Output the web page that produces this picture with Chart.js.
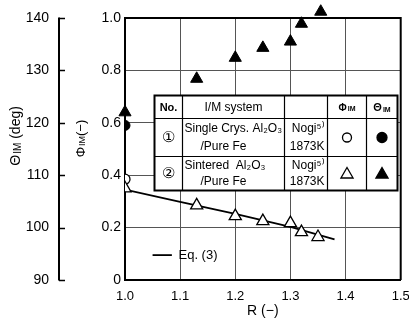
<!DOCTYPE html>
<html><head><meta charset="utf-8">
<script src="https://cdn.jsdelivr.net/npm/chart.js@4.4.1/dist/chart.umd.min.js"></script>
<style>html,body{margin:0;padding:0;background:#fff}#wrap{position:relative;width:409px;height:320px}</style>
</head><body><div id="wrap"><canvas id="c"></canvas></div>
<script>
// ---- data ----
const R_single = [1.0];
const phi_single = [0.385];
const theta_single = [119.5];
const R_sintered = [1.0, 1.13, 1.2, 1.25, 1.3, 1.32, 1.35];
const phi_sintered = [0.35, 0.285, 0.244, 0.225, 0.217, 0.183, 0.164];
const R_sinteredTheta = [1.0, 1.13, 1.2, 1.25, 1.3, 1.32, 1.355];
const theta_sintered = [122.0, 128.4, 132.4, 134.3, 135.5, 138.9, 141.2];
const R_eq3 = [1.0, 1.1, 1.2, 1.3, 1.38];
const phi_eq3 = [0.345, 0.298, 0.252, 0.203, 0.155];

const xTickLabels = ["1.0", "1.1", "1.2", "1.3", "1.4", "1.5"];
const phiTickLabels = ["0", "0.2", "0.4", "0.6", "0.8", "1.0"];
const thetaTickLabels = ["90", "100", "110", "120", "130", "140"];

const xTitle = "R (−)";
const phiTitle = ["Φ", "IM", "(−)"];
const thetaTitle = ["Θ", "IM", " (deg)"];
const tableHeader = ["No.", "I/M system", "", "Φ", "Θ"];
const tableNo = ["①", "②"];
const tableSystem = [["Single Crys. Al₂O₃", "/Pure Fe"], ["Sintered  Al₂O₃", "/Pure Fe"]];
const tableSource = [["Nogi⁵⁾", "1873K"], ["Nogi⁵⁾", "1873K"]];
const legendLabel = "Eq. (3)";

const pts = (xs, ys) => xs.map((x, i) => ({x: x, y: ys[i]}));
const FONT = "'Liberation Sans', Arial, sans-serif";

function tri(ctx, x, y, r, fill) {
  ctx.beginPath();
  for (let k = 0; k < 3; k++) {
    const a = k * 2 * Math.PI / 3;
    const px = x + Math.sin(a) * r, py = y - Math.cos(a) * r;
    k ? ctx.lineTo(px, py) : ctx.moveTo(px, py);
  }
  ctx.closePath();
  ctx.fillStyle = fill ? '#000' : '#fff';
  ctx.fill();
  ctx.lineWidth = 1.3; ctx.strokeStyle = '#000'; ctx.stroke();
}
function circ(ctx, x, y, r, fill) {
  ctx.beginPath(); ctx.arc(x, y, r, 0, 2 * Math.PI);
  ctx.fillStyle = fill ? '#000' : '#fff'; ctx.fill();
  ctx.lineWidth = 1.3; ctx.strokeStyle = '#000'; ctx.stroke();
}
// draws base + small subscript + rest, centred on cx,cy
function subText(ctx, parts, cx, cy, size, bold) {
  const b = bold ? 'bold ' : '';
  const f1 = b + size + 'px ' + FONT, f2 = b + Math.round(size * 0.68) + 'px ' + FONT;
  ctx.font = f1; const w1 = ctx.measureText(parts[0]).width;
  ctx.font = f2; const w2 = ctx.measureText(parts[1]).width;
  ctx.font = f1; const w3 = parts[2] ? ctx.measureText(parts[2]).width : 0;
  let x = cx - (w1 + w2 + w3 + 1) / 2;
  ctx.textAlign = 'left'; ctx.textBaseline = 'middle';
  ctx.font = f1; ctx.fillText(parts[0], x, cy);
  ctx.font = f2; ctx.fillText(parts[1], x + w1 + 1, cy + size * 0.15);
  if (parts[2]) { ctx.font = f1; ctx.fillText(parts[2], x + w1 + w2 + 1, cy); }
}

const tablePlugin = {
  id: 'imTable',
  afterDraw(chart, args, o) {
    const {ctx, chartArea: ca, scales: {x, phi, theta}} = chart;
    ctx.save();
    // frame top/right
    ctx.strokeStyle = '#000'; ctx.lineWidth = 2;
    ctx.beginPath(); ctx.moveTo(ca.left, ca.top); ctx.lineTo(ca.right, ca.top); ctx.lineTo(ca.right, ca.bottom); ctx.stroke();
    // theta axis line with inward ticks
    const ax = Math.round(theta.right) - 1;
    ctx.beginPath(); ctx.moveTo(ax, theta.top - 0.5); ctx.lineTo(ax, theta.bottom + 0.5); ctx.stroke();
    ctx.lineWidth = 1.5;
    theta.ticks.forEach(t => {
      const py = Math.round(theta.getPixelForValue(t.value)) + 0.5;
      ctx.beginPath(); ctx.moveTo(ax, py); ctx.lineTo(ax + 6, py); ctx.stroke();
    });
    // axis titles
    ctx.fillStyle = '#000';
    ctx.save(); ctx.translate(theta.left + 16, phi.getPixelForValue(o.thetaTitleAt)); ctx.rotate(-Math.PI / 2);
    subText(ctx, thetaTitle, 0, 0, 14, false); ctx.restore();
    ctx.save(); ctx.translate(phi.left + 21, phi.getPixelForValue(o.phiTitleAt)); ctx.rotate(-Math.PI / 2);
    subText(ctx, phiTitle, 0, 0, 13, false); ctx.restore();

    // table
    const xs = o.cols.map(v => Math.round(x.getPixelForValue(v)) + 0.5);
    const ys = o.rows.map(v => Math.round(phi.getPixelForValue(v)) + 0.5);
    ctx.fillStyle = '#fff';
    ctx.fillRect(xs[0], ys[0], xs[5] - xs[0], ys[3] - ys[0]);
    ctx.strokeStyle = '#000';
    ctx.lineWidth = 1.2;
    for (let i = 1; i < 3; i++) { ctx.beginPath(); ctx.moveTo(xs[0], ys[i]); ctx.lineTo(xs[5], ys[i]); ctx.stroke(); }
    for (let j = 1; j < 5; j++) { ctx.beginPath(); ctx.moveTo(xs[j], ys[0]); ctx.lineTo(xs[j], ys[3]); ctx.stroke(); }
    ctx.lineWidth = 2;
    ctx.strokeRect(xs[0], ys[0], xs[5] - xs[0], ys[3] - ys[0]);
    ctx.fillStyle = '#000';
    const cc = j => (xs[j] + xs[j + 1]) / 2;
    const rc = i => (ys[i] + ys[i + 1]) / 2;
    ctx.textAlign = 'center'; ctx.textBaseline = 'middle';
    ctx.font = 'bold 11px ' + FONT;
    ctx.fillText(tableHeader[0], cc(0), rc(0) + 1);
    ctx.font = '12px ' + FONT;
    ctx.fillText(tableHeader[1], cc(1), rc(0) + 1);
    ctx.fillText(tableHeader[2], cc(2), rc(0) + 1);
    subText(ctx, [tableHeader[3], 'IM'], cc(3), rc(0) + 1, 10, true);
    subText(ctx, [tableHeader[4], 'IM'], cc(4), rc(0) + 1, 11, true);
    for (let r = 0; r < 2; r++) {
      const top = ys[r + 1], bot = ys[r + 2], h = bot - top;
      ctx.fillStyle = '#000';
      ctx.textAlign = 'center'; ctx.textBaseline = 'middle';
      ctx.font = '15px ' + FONT;
      ctx.fillText(tableNo[r], cc(0), rc(r + 1));
      ctx.font = '12px ' + FONT;
      ctx.textAlign = 'left';
      ctx.fillText(tableSystem[r][0], xs[1] + 2, top + h * 0.28, xs[2] - xs[1] - 3);
      ctx.textAlign = 'center';
      ctx.fillText(tableSystem[r][1], cc(1) - 10, top + h * 0.74);
      ctx.textAlign = 'right';
      ctx.fillText(tableSource[r][0], xs[3] - 3, top + h * 0.28);
      ctx.fillText(tableSource[r][1], xs[3] - 3, top + h * 0.74);
      if (r === 0) { circ(ctx, cc(3), rc(1), 4.5, false); circ(ctx, cc(4), rc(1), 5, true); }
      else { tri(ctx, cc(3), rc(2) + 1, 7, false); tri(ctx, cc(4), rc(2) + 1, 7, true); }
    }
    // Eq.(3) key
    const ly = phi.getPixelForValue(o.keyY);
    ctx.strokeStyle = '#000'; ctx.lineWidth = 1.8;
    ctx.beginPath(); ctx.moveTo(x.getPixelForValue(o.keyX[0]), ly); ctx.lineTo(x.getPixelForValue(o.keyX[1]), ly); ctx.stroke();
    ctx.fillStyle = '#000';
    ctx.font = '13px ' + FONT; ctx.textAlign = 'left'; ctx.textBaseline = 'middle';
    ctx.fillText(legendLabel, x.getPixelForValue(o.keyX[2]), ly);
    ctx.restore();
  }
};

new Chart(document.getElementById('c'), {
  type: 'scatter',
  data: {
    datasets: [
      {label: 'Eq. (3)', data: pts(R_eq3, phi_eq3), yAxisID: 'phi', showLine: true, pointRadius: 0,
       borderColor: '#000', borderWidth: 1.8, order: 5},
      {label: 'Φ single', data: pts(R_single, phi_single), yAxisID: 'phi', pointStyle: 'circle', pointRadius: 5,
       backgroundColor: '#fff', borderColor: '#000', borderWidth: 1.3, order: 4},
      {label: 'Φ sintered', data: pts(R_sintered, phi_sintered), yAxisID: 'phi', pointStyle: 'triangle', pointRadius: 7,
       backgroundColor: '#fff', borderColor: '#000', borderWidth: 1.3, order: 3},
      {label: 'Θ single', data: pts(R_single, theta_single), yAxisID: 'theta', pointStyle: 'circle', pointRadius: 5,
       backgroundColor: '#000', borderColor: '#000', borderWidth: 1, order: 2},
      {label: 'Θ sintered', data: pts(R_sinteredTheta, theta_sintered), yAxisID: 'theta', pointStyle: 'triangle', pointRadius: 7,
       backgroundColor: '#000', borderColor: '#000', borderWidth: 1, order: 1, clip: false}
    ]
  },
  options: {
    responsive: true, maintainAspectRatio: false, animation: false,
    layout: {padding: {top: 18, right: 8, left: 0, bottom: 0}},
    plugins: {
      legend: {display: false}, tooltip: {enabled: false},
      imTable: {cols: [1.052, 1.103, 1.289, 1.366, 1.437, 1.493], rows: [0.705, 0.62, 0.472, 0.345],
                keyX: [1.05, 1.085, 1.097], keyY: 0.095, thetaTitleAt: 0.55, phiTitleAt: 0.54}
    },
    scales: {
      x: {type: 'linear', min: 1.0, max: 1.5,
          ticks: {stepSize: 0.1, padding: 9, color: '#000', font: {family: FONT, size: 13},
                  callback: (v, i) => xTickLabels[i]},
          grid: {color: '#555', lineWidth: 1, drawTicks: false},
          border: {color: '#000', width: 2},
          title: {display: true, text: xTitle, color: '#000', font: {family: FONT, size: 14}, padding: {top: 0, bottom: 0}},
          afterFit: s => { s.height = 40; s.paddingRight = 0; s.paddingLeft = 0; }},
      phi: {type: 'linear', position: 'left', weight: 0, min: 0, max: 1,
          ticks: {stepSize: 0.2, padding: 4, color: '#000', font: {family: FONT, size: 14},
                  callback: (v, i) => phiTickLabels[i]},
          grid: {color: '#555', lineWidth: 1, drawTicks: false},
          border: {color: '#000', width: 2},
          title: {display: false},
          afterFit: s => { s.width = 65; s.paddingTop = 0; s.paddingBottom = 0; }},
      theta: {type: 'linear', position: 'left', weight: 1, min: 90, max: 140,
          ticks: {stepSize: 10, padding: 3, color: '#000', font: {family: FONT, size: 14},
                  callback: (v, i) => thetaTickLabels[i]},
          grid: {display: false},
          border: {display: false},
          title: {display: false},
          afterFit: s => { s.width = 60; s.paddingTop = 0; s.paddingBottom = 0; }}
    }
  },
  plugins: [tablePlugin]
});
</script>
</body></html>
